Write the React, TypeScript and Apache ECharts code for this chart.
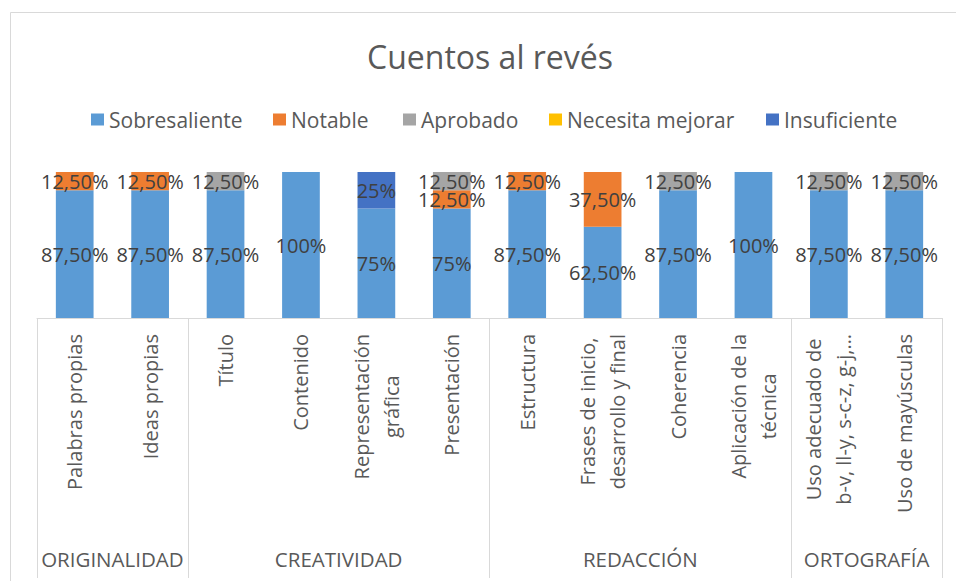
import React, { useEffect, useRef } from 'react';
import * as echarts from 'echarts';

const chartTitle = 'Cuentos al revés';

const categories = [
  'Palabras propias',
  'Ideas propias',
  'Título',
  'Contenido',
  'Representación\ngráfica',
  'Presentación',
  'Estructura',
  'Frases de inicio,\ndesarrollo y final',
  'Coherencia',
  'Aplicación de la\ntécnica',
  'Uso adecuado de\nb-v, ll-y, s-c-z, g-j,…',
  'Uso de mayúsculas',
];

const groupNames = ['ORIGINALIDAD', 'CREATIVIDAD', 'REDACCIÓN', 'ORTOGRAFÍA'];
const groupSizes = [2, 4, 4, 2];

const seriesNames = ['Sobresaliente', 'Notable', 'Aprobado', 'Necesita mejorar', 'Insuficiente'];
const sobresaliente = [87.5, 87.5, 87.5, 100, 75, 75, 87.5, 62.5, 87.5, 100, 87.5, 87.5];
const notable = [12.5, 12.5, 0, 0, 0, 12.5, 12.5, 37.5, 0, 0, 0, 0];
const aprobado = [0, 0, 12.5, 0, 0, 12.5, 0, 0, 12.5, 0, 12.5, 12.5];
const necesitaMejorar = [0, 0, 0, 0, 0, 0, 0, 0, 0, 0, 0, 0];
const insuficiente = [0, 0, 0, 0, 25, 0, 0, 0, 0, 0, 0, 0];

const seriesValues = [sobresaliente, notable, aprobado, necesitaMejorar, insuficiente];
const seriesColors = ['#5B9BD5', '#ED7D31', '#A5A5A5', '#FFC000', '#4472C4'];

// layout constants
const FONT = "'Open Sans', sans-serif";
const legendLefts = [91, 273, 403, 549, 766];

function fmtPct(v: number): string {
  if (Number.isInteger(v)) return `${v}%`;
  return `${v.toFixed(2).replace('.', ',')}%`;
}

export default function App() {
  const ref = useRef<HTMLDivElement>(null);

  useEffect(() => {
    if (!ref.current) return;
    const chart = echarts.init(ref.current, null, { renderer: 'svg' });

    const boundaries: number[] = [0];
    const centers: number[] = [];
    groupSizes.forEach((s) => {
      const start = boundaries[boundaries.length - 1];
      centers.push(start + s / 2);
      boundaries.push(start + s);
    });

    const option: any = {
      animation: false,
      backgroundColor: '#ffffff',
      title: {
        text: chartTitle,
        left: 490,
        top: 40,
        padding: 0,
        textAlign: 'center',
        textStyle: { fontFamily: FONT, fontSize: 32, fontWeight: 'normal', color: '#595959' },
      },
      legend: seriesNames.map((n, i) => ({
        data: [n],
        left: legendLefts[i],
        top: 109,
        padding: 0,
        itemWidth: 13,
        itemHeight: 12,
        icon: 'rect',
        selectedMode: false,
        textStyle: { fontFamily: FONT, fontSize: 21, color: '#595959' },
      })),
      graphic: [
        {
          type: 'rect',
          silent: true,
          z: -10,
          shape: { x: 10.5, y: 12.5, width: 1000, height: 700 },
          style: { fill: 'none', stroke: '#d9d9d9', lineWidth: 1 },
        },
      ],
      grid: {
        left: 37,
        right: 14,
        top: 172,
        bottom: 263,
        containLabel: false,
        outerBoundsMode: 'none',
      },
      xAxis: [
        {
          type: 'category',
          data: categories,
          position: 'bottom',
          axisLine: { show: true, lineStyle: { color: '#d9d9d9', width: 1 } },
          axisTick: { show: false },
          splitLine: { show: false },
          axisLabel: {
            interval: 0,
            rotate: 90,
            margin: 16,
            formatter: (v: string) =>
              v
                .split('\n')
                .map((s) => `{c|${s}}`)
                .join('\n'),
            rich: {
              c: {
                fontFamily: FONT,
                fontSize: 20,
                color: '#595959',
                align: 'center',
                lineHeight: 30,
              },
            },
          },
        },
        {
          type: 'value',
          position: 'bottom',
          offset: 0,
          min: 0,
          max: categories.length,
          axisLine: { show: false },
          splitLine: { show: false },
          axisTick: {
            show: true,
            customValues: boundaries,
            length: 260,
            lineStyle: { color: '#d9d9d9', width: 1 },
          },
          axisLabel: {
            customValues: centers,
            margin: 230,
            fontFamily: FONT,
            fontSize: 20.5,
            color: '#595959',
            formatter: (v: number) => {
              const idx = centers.indexOf(v);
              return idx >= 0 ? groupNames[idx] : '';
            },
          },
        },
      ],
      yAxis: {
        type: 'value',
        min: 0,
        max: 100,
        show: false,
        splitLine: { show: false },
      },
      series: seriesNames.map((name, i) => ({
        name,
        type: 'bar',
        stack: 'total',
        xAxisIndex: 0,
        barWidth: '50%',
        itemStyle: { color: seriesColors[i] },
        label: {
          show: true,
          position: 'inside',
          fontFamily: FONT,
          fontSize: 20,
          color: '#404040',
          formatter: (p: any) => fmtPct(p.value),
        },
        data: seriesValues[i].map((v) => (v === 0 ? null : v)),
      })),
    };

    chart.setOption(option);
    return () => chart.dispose();
  }, []);

  return (
    <div
      ref={ref}
      style={{ position: 'fixed', left: 0, top: 0, width: 956, height: 581, background: '#fff' }}
    />
  );
}
